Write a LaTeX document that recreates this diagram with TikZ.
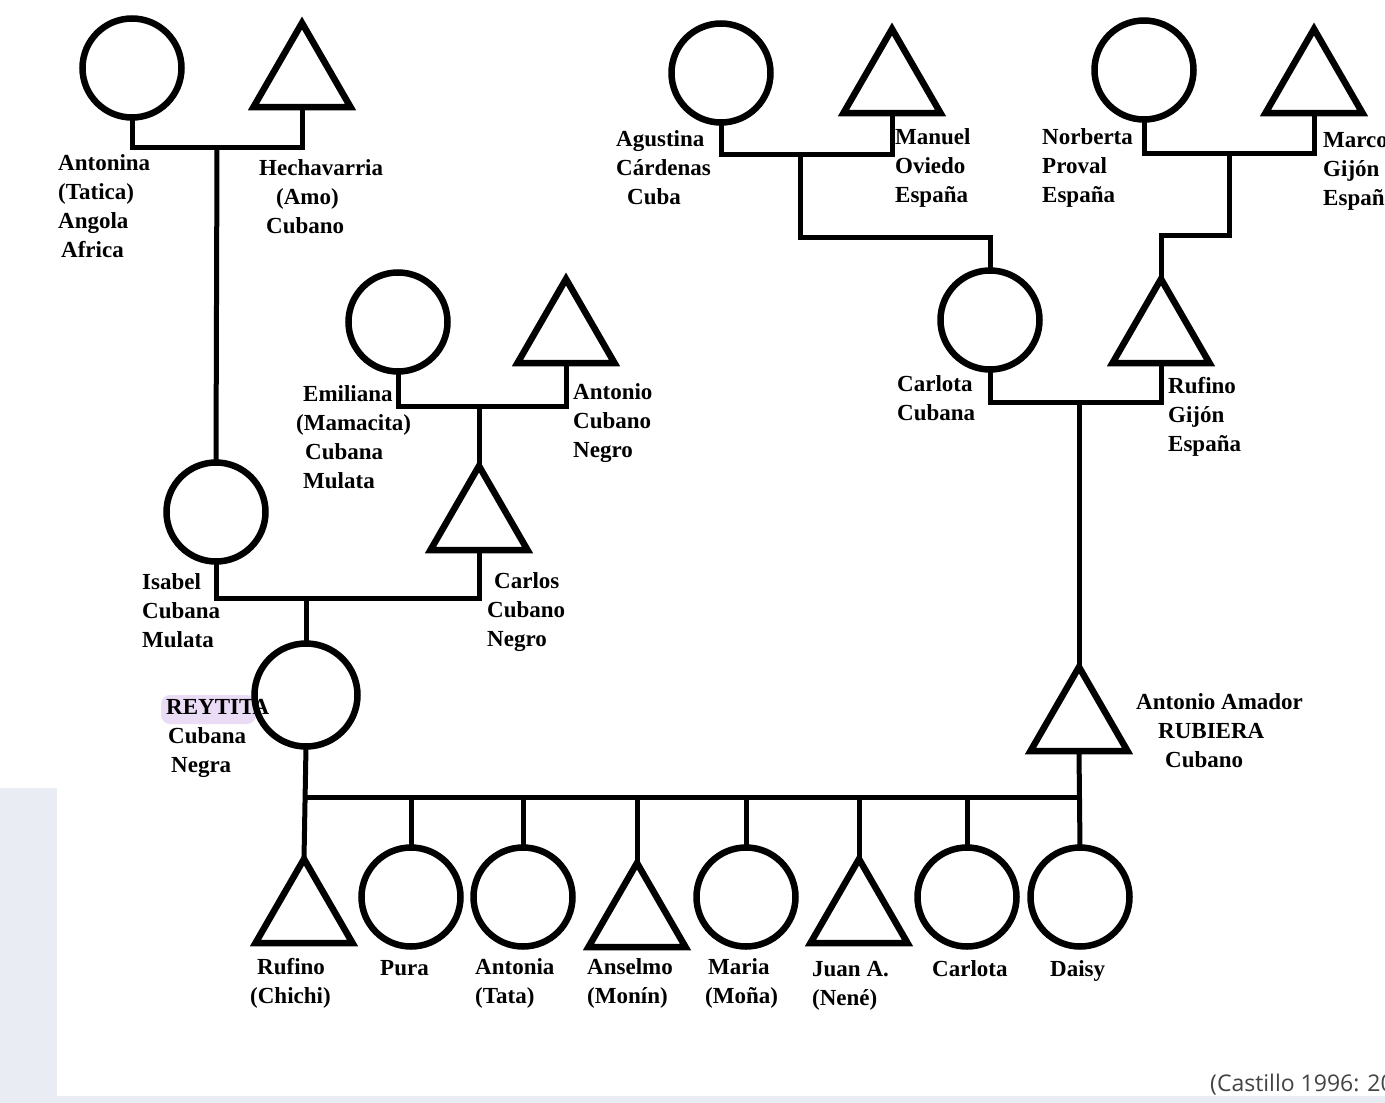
\documentclass[tikz,border=0pt]{standalone}
\usepackage{fontspec}
\setmainfont{Liberation Serif}
\newfontfamily\capfont{Open Sans}
\usetikzlibrary{shapes.geometric}
\definecolor{panel}{HTML}{E9ECF3}
\definecolor{hilite}{HTML}{EBDCF6}
\definecolor{captxt}{HTML}{444444}
\begin{document}
\begin{tikzpicture}[x=1pt,y=-1pt,
  female/.style={circle,draw,line width=6.5pt,minimum size=99pt,inner sep=0pt,outer sep=0pt},
  male/.style={regular polygon,regular polygon sides=3,draw,line width=6.5pt,minimum size=112pt,inner sep=0pt,outer sep=0pt,line join=miter},
  link/.style={line width=5pt},
  lbl/.style={font=\fontsize{23}{29}\selectfont\bfseries,align=left,anchor=west,inner sep=0pt},
  captionstyle/.style={font=\capfont\fontsize{23}{28}\selectfont,text=captxt,anchor=base west,inner sep=0pt}]
\useasboundingbox (0,0) rectangle (1385,1103);
\clip (0,0) rectangle (1385,1103);
% background
\fill[white] (0,0) rectangle (1385,1103);
\fill[panel] (0,788) rectangle (57,1103);
\fill[panel] (0,1096) rectangle (1385,1103);
\fill[hilite,rounded corners=9pt] (161,695) rectangle (256,724);

% ---------- people ----------
\node[female] (antonina) at (132,68) {};
\node[male]   (hech)     at (302,79) {};
\node[female] (agustina) at (721,73) {};
\node[male]   (manuel)   at (892,85) {};
\node[female] (norberta) at (1144,70) {};
\node[male]   (marcos)   at (1314,85) {};
\node[female] (emiliana) at (398,322) {};
\node[male]   (antonio)  at (566,335) {};
\node[female] (carlotaA) at (990,320) {};
\node[male]   (rufinoG)  at (1161,335) {};
\node[female] (isabel)   at (216,512) {};
\node[male]   (carlos)   at (479,522) {};
\node[female,minimum height=103pt] (reyita) at (306,695) {};
\node[male]   (amador)   at (1079,723) {};
\node[male]   (rufinoC)  at (304,915) {};
\node[female] (pura)     at (411,897) {};
\node[female] (antonia)  at (523,897) {};
\node[male]   (anselmo)  at (637,919) {};
\node[female] (maria)    at (746,897) {};
\node[male]   (juan)     at (859,915) {};
\node[female] (carlotaB) at (967,897) {};
\node[female] (daisy)    at (1080,897) {};

% ---------- junction points ----------
\coordinate (u1) at (217,147);
\coordinate (u2) at (800,154);
\coordinate (k2) at (800,237);
\coordinate (u3) at (1229,153);
\coordinate (k3) at (1229,235);
\coordinate (u4) at (479,406);
\coordinate (u5) at (1079,402);
\coordinate (u6) at (306,598);
\coordinate (s1) at (306,797);
\coordinate (s2) at (1079,797);

% ---------- connectors ----------
\draw[link] (antonina.south) |- (u1) -| (hech.side 2);
\draw[link] (u1) -- (isabel.north);
\draw[link] (agustina.south) |- (u2) -| (manuel.side 2);
\draw[link] (u2) -- (k2) -| (carlotaA.north);
\draw[link] (norberta.south) |- (u3) -| (marcos.side 2);
\draw[link] (u3) -- (k3) -| (rufinoG.corner 1);
\draw[link] (emiliana.south) |- (u4) -| (antonio.side 2);
\draw[link] (u4) -- (carlos.corner 1);
\draw[link] (carlotaA.south) |- (u5) -| (rufinoG.side 2);
\draw[link] (u5) -- (amador.corner 1);
\draw[link] (isabel.south) |- (u6) -| (carlos.side 2);
\draw[link] (u6) -- (reyita.north);
\draw[link] (reyita.south) -- (rufinoC.corner 1);
\draw[link] (amador.side 2) -- (daisy.north);
\draw[link] (s1) -- (s2);
\draw[link] (pura.north |- s1) -- (pura.north);
\draw[link] (antonia.north |- s1) -- (antonia.north);
\draw[link] (anselmo.corner 1 |- s1) -- (anselmo.corner 1);
\draw[link] (maria.north |- s1) -- (maria.north);
\draw[link] (juan.corner 1 |- s1) -- (juan.corner 1);
\draw[link] (carlotaB.north |- s1) -- (carlotaB.north);

% ---------- labels ----------
\node[lbl] (t-antonina) at (58,206) {Antonina\\(Tatica)\\Angola\\\hspace*{3pt}Africa};
\node[lbl] (t-hech) at (259,197) {Hechavarria\\\hspace*{17pt}(Amo)\\\hspace*{7pt}Cubano};
\node[lbl] (t-agustina) at (616,168) {Agustina\\Cárdenas\\\hspace*{11pt}Cuba};
\node[lbl] (t-manuel) at (895,168) {Manuel\\Oviedo\\España};
\node[lbl] (t-norberta) at (1042,168) {Norberta\\Proval\\España};
\node[lbl] (t-marcos) at (1323,171) {Marcos\\Gijón\\España};
\node[lbl] (t-emiliana) at (296,437) {\hspace*{7pt}Emiliana\\(Mamacita)\\\hspace*{9pt}Cubana\\\hspace*{7pt}Mulata};
\node[lbl] (t-antonio) at (573,423) {Antonio\\Cubano\\Negro};
\node[lbl] (t-carlotaA) at (897,398) {Carlota\\Cubana};
\node[lbl] (t-rufinoG) at (1168,417) {Rufino\\Gijón\\España};
\node[lbl] (t-isabel) at (142,611) {Isabel\\Cubana\\Mulata};
\node[lbl] (t-carlos) at (487,612) {\hspace*{7pt}Carlos\\Cubano\\Negro};
\node[lbl] (t-reyita) at (166,738) {REYTITA\\\hspace*{2pt}Cubana\\\hspace*{5pt}Negra};
\node[lbl] (t-amador) at (1136,731) {Antonio Amador\\\hspace*{22pt}RUBIERA\\\hspace*{29pt}Cubano};
\node[lbl] (t-rufinoC) at (250,983) {\hspace*{7pt}Rufino\\(Chichi)};
\node[lbl,anchor=base west] (t-pura) at (380,975) {Pura};
\node[lbl] (t-antonia) at (475,983) {Antonia\\(Tata)};
\node[lbl] (t-anselmo) at (587,983) {Anselmo\\(Monín)};
\node[lbl] (t-maria) at (705,983) {\hspace*{3pt}Maria\\(Moña)};
\node[lbl] (t-juan) at (812,986) {Juan A.\\(Nené)};
\node[lbl,anchor=base west] (t-carlotaB) at (932,976) {Carlota};
\node[lbl,anchor=base west] (t-daisy) at (1050,976) {Daisy};

\node[captionstyle] (caption) at (1210,1091) {(Castillo 1996: 20};
\end{tikzpicture}
\end{document}
